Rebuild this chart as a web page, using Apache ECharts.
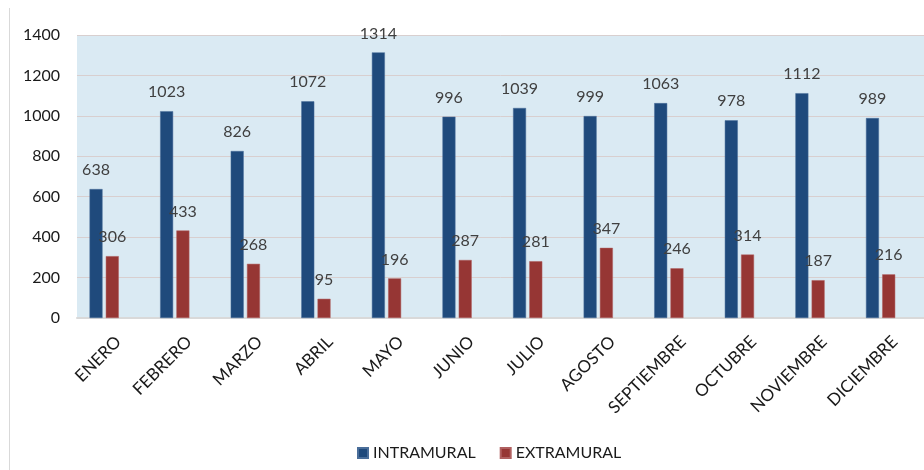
<!DOCTYPE html>
<html><head><meta charset="utf-8">
<script src="https://cdn.jsdelivr.net/npm/echarts@6/dist/echarts.min.js"></script>
<style>html,body{margin:0;padding:0;background:#fff}#c{width:924px;height:470px}</style>
</head><body><div id="c"></div>
<script>
const categories = ['ENERO','FEBRERO','MARZO','ABRIL','MAYO','JUNIO','JULIO','AGOSTO','SEPTIEMBRE','OCTUBRE','NOVIEMBRE','DICIEMBRE'];
const intramural = [638,1023,826,1072,1314,996,1039,999,1063,978,1112,989];
const extramural = [306,433,268,95,196,287,281,347,246,314,187,216];
const yTicks = {min:0, max:1400, interval:200};

const FONT = 'Lato';
const chart = echarts.init(document.getElementById('c'), null, {renderer:'canvas'});
const lbl = {show:true, position:'top', distance:11, color:'#404040', fontSize:16, fontFamily:FONT};
chart.setOption({
  animation:false,
  textStyle:{fontFamily:FONT},
  graphic:[{type:'line', shape:{x1:9.5,y1:8,x2:9.5,y2:470}, style:{stroke:'#d9d9d9', lineWidth:1}}],
  grid:{left:77, top:35, bottom:152, width:858, show:true, backgroundColor:'#DAEAF3', borderWidth:0},
  legend:{data:['INTRAMURAL','EXTRAMURAL'], bottom:4, left:352, itemWidth:10, itemHeight:10, itemGap:24,
    icon:'rect', textStyle:{fontSize:16, color:'#1a1a1a', fontFamily:FONT}},
  xAxis:{type:'category', data:categories,
    axisLine:{lineStyle:{color:'#d9d9d9', width:2}}, axisTick:{show:false},
    axisLabel:{interval:0, rotate:45, fontSize:17, color:'#1a1a1a', margin:15, verticalAlign:'top', fontFamily:FONT}},
  yAxis:{type:'value', min:yTicks.min, max:yTicks.max, interval:yTicks.interval,
    axisLine:{show:false}, axisTick:{show:false},
    axisLabel:{fontSize:16, color:'#1a1a1a', margin:17, fontFamily:FONT, formatter:v => String(v)},
    splitLine:{lineStyle:{color:'#D8CFCF', width:1}}},
  series:[
    {name:'INTRAMURAL', type:'bar', data:intramural, barWidth:13, barGap:'25%',
      itemStyle:{color:'#1F4A7C', borderColor:'#4a6e9a', borderWidth:0.5}, label:lbl},
    {name:'EXTRAMURAL', type:'bar', data:extramural, barWidth:13, barGap:'25%',
      itemStyle:{color:'#963634', borderColor:'#b06060', borderWidth:0.5}, label:lbl},
    {name:'_spacer', type:'bar', data:[], barWidth:13, barGap:'25%'}
  ]
});
</script></body></html>
